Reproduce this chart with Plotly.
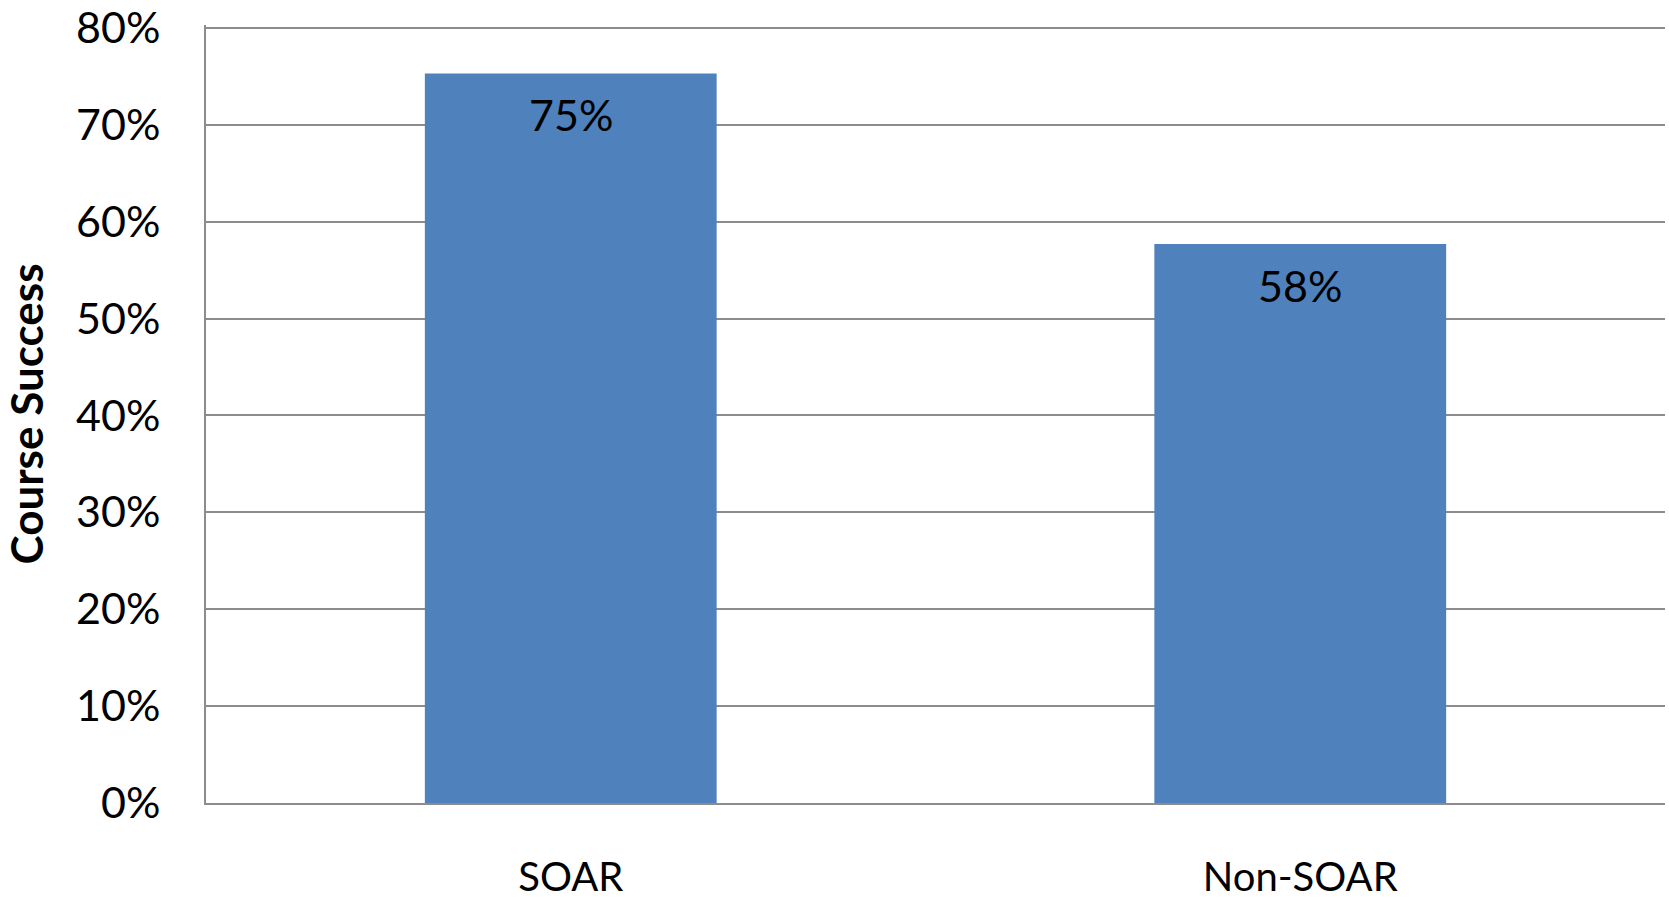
import plotly.graph_objects as go

# Course success rate by group
categories = ["SOAR", "Non-SOAR"]
success_rate = [0.753, 0.577]

y_ticks = [0, 0.1, 0.2, 0.3, 0.4, 0.5, 0.6, 0.7, 0.8]

BAR_COLOR = "#4F81BD"
GRID_COLOR = "#8C8C8C"
FONT = "Lato, 'Open Sans', sans-serif"

fig = go.Figure()
fig.add_trace(go.Bar(
    x=categories,
    y=success_rate,
    marker=dict(color=BAR_COLOR, line=dict(width=0)),
    width=0.4,
    hoverinfo="skip",
))

# value labels just inside the top of each bar
for cat, val in zip(categories, success_rate):
    fig.add_annotation(
        x=cat, y=val, text=f"{val:.0%}",
        yanchor="top", yshift=-14, showarrow=False,
        font=dict(family=FONT, size=43, color="black"),
    )

fig.update_layout(
    width=1669, height=899,
    margin=dict(l=206, r=4, t=25, b=96, autoexpand=False),
    paper_bgcolor="white",
    plot_bgcolor="white",
    showlegend=False,
    font=dict(family=FONT, color="black"),
)

fig.update_yaxes(
    range=[0, 0.803],
    tickvals=y_ticks,
    tickformat=".0%",
    tickfont=dict(family=FONT, size=43, color="black"),
    showgrid=True, gridcolor=GRID_COLOR, gridwidth=1.5,
    showline=True, linecolor=GRID_COLOR, linewidth=2,
    zeroline=False,
    ticks="",
    ticklabelstandoff=35,
    automargin=False,
    title=dict(text="<b>Course Success</b>",
               font=dict(family=FONT, size=44, color="black"),
               standoff=20),
)

fig.update_xaxes(
    tickfont=dict(family=FONT, size=40, color="black"),
    showline=True, linecolor=GRID_COLOR, linewidth=2,
    showgrid=False,
    ticks="",
    ticklabelstandoff=38,
    automargin=False,
    mirror=False,
)

fig.write_html("out.html")
